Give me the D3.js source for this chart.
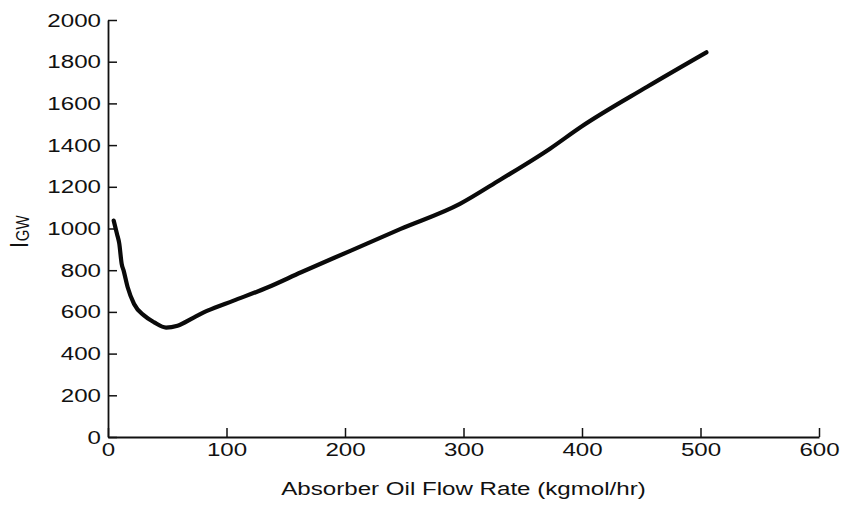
<!DOCTYPE html>
<html>
<head>
<meta charset="utf-8">
<script src="https://cdn.jsdelivr.net/npm/d3@7"></script>
<style>
  body { margin: 0; background: #fff; }
  svg text { font-family: "Liberation Sans", Arial, sans-serif; fill: #111; }
</style>
</head>
<body>
<svg id="chart"></svg>
<script>
// Absorber oil flow rate (kgmol/hr)
var flowRates = [4.8, 7.6, 9.5, 11.5, 13.2, 16.6, 22, 30.6, 39, 49, 58.7, 72.7, 84, 106, 135, 163, 205, 247, 297, 331, 373, 399, 455, 505];
// I_GW at each of those flow rates
var igwValues = [1038, 974, 928, 832, 798, 718, 638, 582, 550, 525, 534, 574, 606, 654, 718, 790, 894, 998, 1118, 1234, 1383, 1487, 1680, 1845];
// Tick labels
var xTicks = [0, 100, 200, 300, 400, 500, 600];
var yTicks = [0, 200, 400, 600, 800, 1000, 1200, 1400, 1600, 1800, 2000];

var width = 842;
var height = 510;
var stretch = 1.27;   // the scanned lettering is wider than plain Arial

var svg = d3.select("#chart")
            .attr("width", width)
            .attr("height", height);

var xScale = d3.scaleLinear()
               .domain([0, 600])
               .range([108, 819]);

var yScale = d3.scaleLinear()
               .domain([0, 2000])
               .range([437, 20]);

// x-axis, ticks pointing up into the plot
var xAxis = svg.append("g")
               .attr("transform", "translate(0," + yScale(0) + ")")
               .call(d3.axisBottom(xScale).tickValues(xTicks).tickFormat(d3.format("d"))
                       .tickSize(-9).tickSizeOuter(0).tickPadding(6));

// y-axis, ticks pointing right into the plot
var yAxis = svg.append("g")
               .attr("transform", "translate(" + xScale(0) + ",0)")
               .call(d3.axisLeft(yScale).tickValues(yTicks).tickFormat(d3.format("d"))
                       .tickSize(-9).tickSizeOuter(0).tickPadding(7));

[xAxis, yAxis].forEach(function(axis) {
    axis.select(".domain").attr("stroke", "#111").attr("stroke-width", 1.8);
    axis.selectAll(".tick line").attr("stroke", "#111").attr("stroke-width", 1.5);
    axis.selectAll(".tick text")
        .attr("font-size", 19)
        .attr("fill", "#111")
        .attr("transform", "scale(" + stretch + ",1)");
});

// scale() also moves the x attribute, so undo that
xAxis.selectAll(".tick text").attr("x", 0);
yAxis.selectAll(".tick text").attr("x", -7 / stretch);

// x-axis label
svg.append("text")
   .attr("transform", "translate(" + ((xScale(0) + xScale(600)) / 2) + ",495) scale(" + stretch + ",1)")
   .attr("text-anchor", "middle")
   .attr("font-size", 19)
   .text("Absorber Oil Flow Rate (kgmol/hr)");

// y-axis label, I with subscript GW
var yLabel = svg.append("text")
                .attr("transform", "translate(28,248) rotate(-90) scale(1," + stretch + ")")
                .attr("font-size", 21);
yLabel.append("tspan").text("I");
yLabel.append("tspan")
      .attr("font-size", 15)
      .attr("dx", 1)
      .attr("dy", 1)
      .text("GW");

// The curve itself
var line = d3.line()
             .x(function(d, i) {return xScale(flowRates[i]);})
             .y(function(d) {return yScale(d);})
             .curve(d3.curveMonotoneX);

svg.append("path")
   .datum(igwValues)
   .attr("fill", "none")
   .attr("stroke", "#0a0a0a")
   .attr("stroke-width", 4.2)
   .attr("stroke-linejoin", "round")
   .attr("stroke-linecap", "round")
   .attr("d", line);
</script>
</body>
</html>
